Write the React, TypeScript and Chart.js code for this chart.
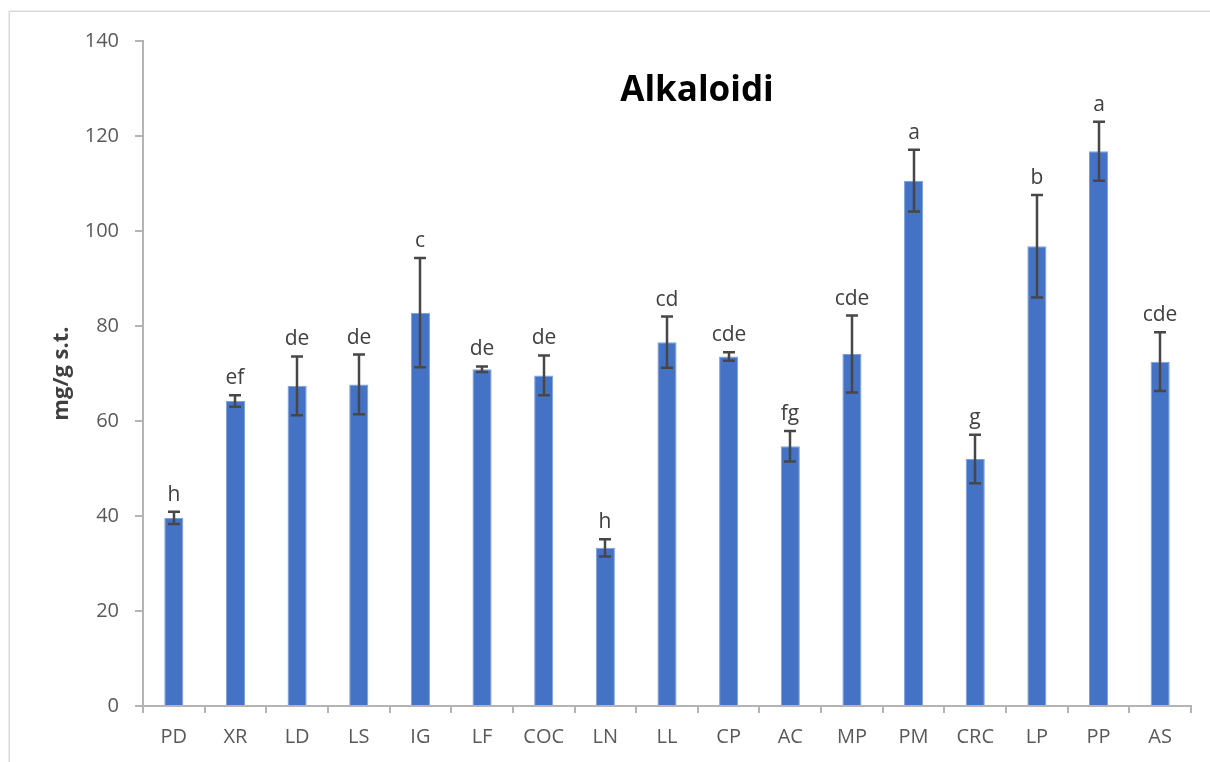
import React, { useEffect, useRef } from "react";
import { Chart, registerables } from "chart.js";

Chart.register(...registerables);

const categories = ["PD", "XR", "LD", "LS", "IG", "LF", "COC", "LN", "LL", "CP", "AC", "MP", "PM", "CRC", "LP", "PP", "AS"];
const values = [39.6, 64.2, 67.4, 67.7, 82.8, 70.9, 69.6, 33.3, 76.6, 73.6, 54.7, 74.1, 110.6, 52.0, 96.8, 116.8, 72.5];
const errors = [1.3, 1.2, 6.2, 6.3, 11.5, 0.6, 4.2, 1.8, 5.4, 0.9, 3.2, 8.1, 6.5, 5.1, 10.8, 6.2, 6.2];
const letters = ["h", "ef", "de", "de", "c", "de", "de", "h", "cd", "cde", "fg", "cde", "a", "g", "b", "a", "cde"];
const yTicks = [0, 20, 40, 60, 80, 100, 120, 140];
const chartTitle = "Alkaloidi";
const yTitle = "mg/g s.t.";

const FONT = "'Open Sans', 'Noto Sans', sans-serif";

const extrasPlugin = {
  id: "extras",
  beforeDraw(chart: any) {
    const ctx = chart.ctx;
    ctx.save();
    ctx.fillStyle = "#ffffff";
    ctx.fillRect(0, 0, chart.width, chart.height);
    ctx.strokeStyle = "#d9d9d9";
    ctx.lineWidth = 1.5;
    ctx.strokeRect(9.25, 11.25, 1400, 1000);
    ctx.restore();
  },
  afterDatasetsDraw(chart: any) {
    const ctx = chart.ctx;
    const meta = chart.getDatasetMeta(0);
    const y = chart.scales.y;
    ctx.save();
    ctx.strokeStyle = "#474747";
    ctx.lineWidth = 2.5;
    ctx.fillStyle = "#404040";
    ctx.font = `21px ${FONT}`;
    ctx.textAlign = "center";
    ctx.textBaseline = "alphabetic";
    meta.data.forEach((bar: any, i: number) => {
      const x = Math.round(bar.x);
      const top = y.getPixelForValue(values[i] + errors[i]);
      const bot = y.getPixelForValue(values[i] - errors[i]);
      ctx.beginPath();
      ctx.moveTo(x, top);
      ctx.lineTo(x, bot);
      ctx.moveTo(x - 6, top);
      ctx.lineTo(x + 6, top);
      ctx.moveTo(x - 6, bot);
      ctx.lineTo(x + 6, bot);
      ctx.stroke();
      ctx.fillText(letters[i], x, top - 11);
    });
    ctx.fillStyle = "#000000";
    ctx.font = `bold 35px ${FONT}`;
    ctx.fillText(chartTitle, 697, 101);
    ctx.restore();
  },
};

export default function App() {
  const ref = useRef<HTMLCanvasElement | null>(null);
  useEffect(() => {
    if (!ref.current) return;
    const chart = new Chart(ref.current, {
      type: "bar",
      data: {
        labels: categories,
        datasets: [
          {
            data: values,
            backgroundColor: "#4472C4",
            borderColor: "#7d9fdc",
            borderWidth: 1,
            categoryPercentage: 1,
            barPercentage: 0.31,
          },
        ],
      },
      options: {
        responsive: false,
        animation: false,
        layout: { padding: { left: 0, top: 41, right: 19, bottom: 0 } },
        plugins: { legend: { display: false }, tooltip: { enabled: false }, title: { display: false } },
        scales: {
          x: {
            grid: { display: true, drawOnChartArea: false, offset: true, tickLength: 7, color: "#b4b4b4", lineWidth: 2 },
            border: { color: "#b4b4b4", width: 2 },
            ticks: { color: "#595959", font: { family: FONT, size: 20 }, padding: 12, maxRotation: 0, autoSkip: false },
            afterFit: (s: any) => {
              s.height = 56;
            },
          },
          y: {
            min: 0,
            max: 140,
            afterBuildTicks: (s: any) => {
              s.ticks = yTicks.map((v) => ({ value: v }));
            },
            grid: { display: true, drawOnChartArea: false, tickLength: 8, color: "#b4b4b4", lineWidth: 2 },
            border: { color: "#b4b4b4", width: 2 },
            ticks: { color: "#595959", font: { family: FONT, size: 20 }, padding: 16 },
            title: {
              display: true,
              text: yTitle,
              color: "#404040",
              font: { family: FONT, size: 22, weight: "bold" },
              padding: { top: 49, bottom: 0 },
            },
            afterFit: (s: any) => {
              s.width = 143;
            },
          },
        },
      },
      plugins: [extrasPlugin],
    });
    return () => chart.destroy();
  }, []);
  return (
    <div style={{ position: "fixed", left: 0, top: 0, width: 1210, height: 762, background: "#fff" }}>
      <canvas ref={ref} width={1210} height={762} style={{ display: "block" }} />
    </div>
  );
}
